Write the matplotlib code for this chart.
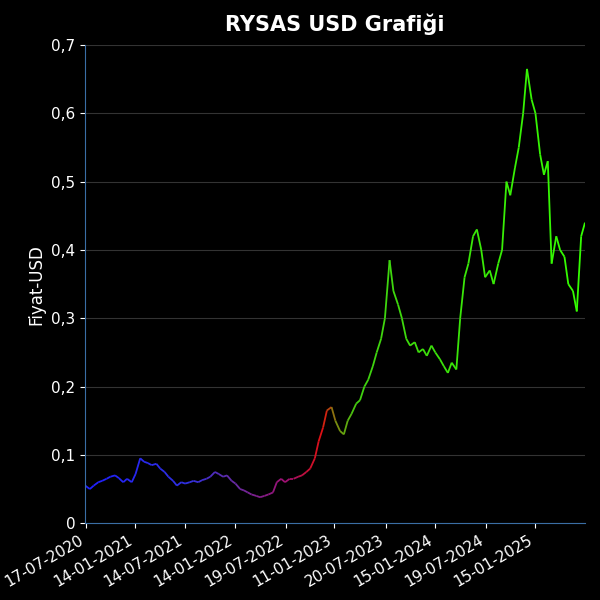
import numpy as np
import pandas as pd
import matplotlib
matplotlib.use("Agg")
import matplotlib.pyplot as plt
import matplotlib.dates as mdates
from matplotlib.collections import LineCollection
from matplotlib.colors import LinearSegmentedColormap
from matplotlib.ticker import FuncFormatter

# semi-monthly price estimates
prices = [
    0.055, 0.050, 0.055, 0.060, 0.062, 0.065, 0.068, 0.070, 0.066, 0.060, 0.065, 0.060,  # 2020
    0.072, 0.095, 0.090, 0.088, 0.085, 0.087, 0.080, 0.075, 0.068, 0.062, 0.055, 0.060,  # 2021 H1
    0.058, 0.060, 0.062, 0.060, 0.063, 0.065, 0.068, 0.075, 0.072, 0.068, 0.070, 0.062,  # 2021 H2
    0.058, 0.050, 0.048, 0.045, 0.042, 0.040, 0.038, 0.040, 0.042, 0.045, 0.060, 0.065,  # 2022 H1
    0.060, 0.065, 0.065, 0.068, 0.070, 0.075, 0.080, 0.095, 0.120, 0.140, 0.165, 0.170,  # 2022 H2
    0.150, 0.135, 0.130, 0.150, 0.160, 0.175, 0.180, 0.200, 0.210, 0.230, 0.250, 0.270,  # 2023 H1
    0.300, 0.385, 0.340, 0.320, 0.300, 0.270, 0.260, 0.265, 0.250, 0.255, 0.245, 0.260,  # 2023 H2
    0.250, 0.240, 0.230, 0.220, 0.235, 0.225, 0.300, 0.360, 0.380, 0.420, 0.430, 0.400,  # 2024 H1
    0.360, 0.370, 0.350, 0.380, 0.400, 0.500, 0.480, 0.520, 0.550, 0.600, 0.665, 0.620,  # 2024 H2
    0.600, 0.540, 0.510, 0.530, 0.380, 0.420, 0.400, 0.390, 0.350, 0.340, 0.310, 0.420,  # 2025 H1
    0.440,
]
dates = pd.date_range("2020-07-15", periods=len(prices), freq="SMS")

tick_labels = ["17-07-2020", "14-01-2021", "14-07-2021", "14-01-2022", "19-07-2022",
               "11-01-2023", "20-07-2023", "15-01-2024", "19-07-2024", "15-01-2025"]

BG = "black"
TEXT = "white"

cmap = LinearSegmentedColormap.from_list(
    "seg",
    [(0.0, "#2020ff"), (0.2, "#3030e0"), (0.3, "#6a2aa0"), (0.4, "#a01070"),
     (0.47, "#e01010"), (0.5, "#7a8a10"), (0.54, "#40d010"), (1.0, "#33ff00")])

fig = plt.figure(figsize=(6, 6), dpi=100, facecolor=BG)
ax = fig.add_axes([0.142, 0.128, 0.833, 0.797])
ax.set_facecolor(BG)

x = mdates.date2num(dates)
y = np.array(prices)
pts = np.column_stack([x, y]).reshape(-1, 1, 2)
segs = np.concatenate([pts[:-1], pts[1:]], axis=1)
frac = (x[:-1] - x[0]) / (x[-1] - x[0])
lc = LineCollection(segs, colors=cmap(frac), linewidth=1.3)
ax.add_collection(lc)

ax.set_xlim(x[0], x[-1])
ax.set_ylim(0, 0.7)
ax.set_yticks(np.arange(0, 0.71, 0.1))
ax.yaxis.set_major_formatter(FuncFormatter(lambda v, p: f"{v:.1f}".replace(".", ",") if v else "0"))
ax.grid(axis="y", color="#333333", linewidth=0.8)
ax.set_axisbelow(True)

tick_pos = mdates.date2num(pd.to_datetime(tick_labels, format="%d-%m-%Y"))
ax.set_xticks(tick_pos)
ax.set_xticklabels(tick_labels, rotation=30, ha="right")
ax.tick_params(colors=TEXT, labelsize=11)

for side in ["top", "right"]:
    ax.spines[side].set_visible(False)
for side in ["left", "bottom"]:
    ax.spines[side].set_color("#3a6ea5")

ax.set_ylabel("Fiyat-USD", color=TEXT, fontsize=12)
ax.set_title("RYSAS USD Grafiği", color=TEXT, fontsize=15, fontweight="bold", pad=10)

fig.savefig("out.png", dpi=100, facecolor=BG)
